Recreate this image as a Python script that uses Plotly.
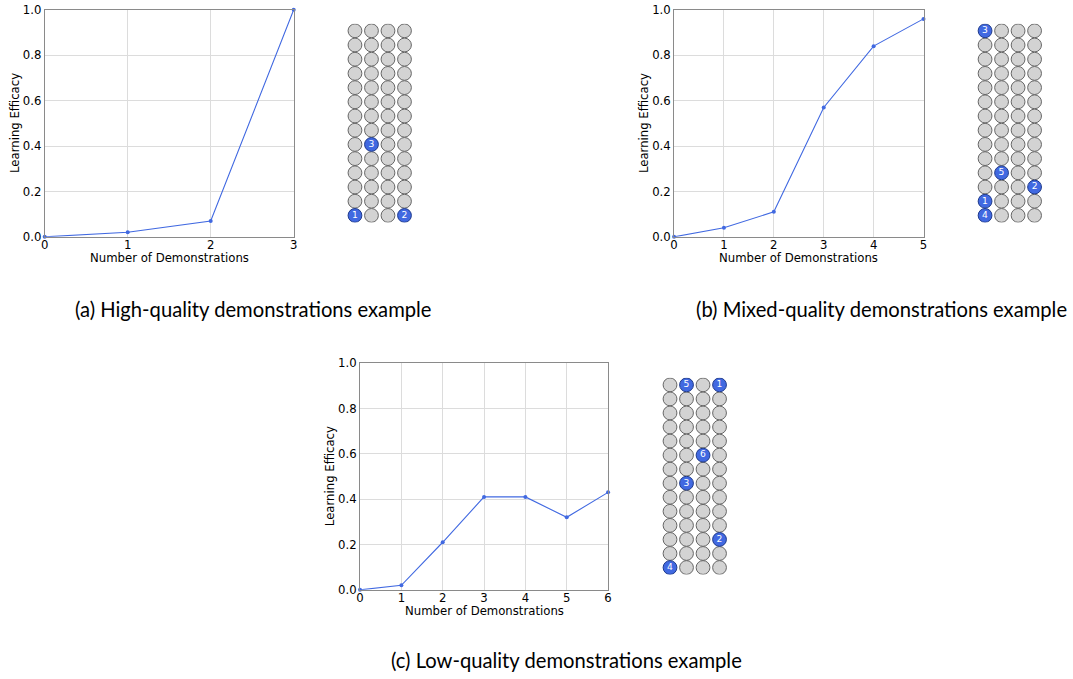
import plotly.graph_objects as go

W, H = 1073, 679

# ---- data ----
x_a = [0, 1, 2, 3]
y_a = [0.0, 0.02, 0.07, 1.0]
x_b = [0, 1, 2, 3, 4, 5]
y_b = [0.0, 0.04, 0.11, 0.57, 0.84, 0.96]
x_c = [0, 1, 2, 3, 4, 5, 6]
y_c = [0.0, 0.02, 0.21, 0.41, 0.41, 0.32, 0.43]

grid_cols = 4
grid_rows = 14
# highlighted cells: (label, column, row-from-top)
sel_a = [(1, 0, 13), (2, 3, 13), (3, 1, 8)]
sel_b = [(1, 0, 12), (2, 3, 11), (3, 0, 0), (4, 0, 13), (5, 1, 10)]
sel_c = [(1, 3, 0), (2, 3, 11), (3, 1, 7), (4, 0, 13), (5, 1, 0), (6, 2, 5)]

y_ticks = [0.0, 0.2, 0.4, 0.6, 0.8, 1.0]
x_title = "Number of Demonstrations"
y_title = "Learning Efficacy"
captions = ["(a) High-quality demonstrations example",
            "(b) Mixed-quality demonstrations example",
            "(c) Low-quality demonstrations example"]

# ---- layout helpers (target pixel boxes, corrected for render scaling) ----
SX, OX = 0.9924, 3.33
SY, OY = 0.9793, 6.19

def PX(t):
    return (t - OX) / SX

def PY(t):
    return (t - OY) / SY

def xd(l, r):
    return [PX(l) / W, PX(r) / W]

def yd(t, b):
    return [1 - PY(b) / H, 1 - PY(t) / H]

plots = [
    dict(x=x_a, y=y_a, xbox=(44, 293), ybox=(9, 236), gx=(346, 412), gy=(22.9, 221.7), sel=sel_a,
         xt=(168.5, 257), yt=(15, 122.5)),
    dict(x=x_b, y=y_b, xbox=(673.3, 922.7), ybox=(9, 236), gx=(976, 1042), gy=(22.9, 221.7), sel=sel_b,
         xt=(798, 257), yt=(644, 122.5)),
    dict(x=x_c, y=y_c, xbox=(359.3, 607.3), ybox=(362.3, 589), gx=(661, 727), gy=(377, 573.7), sel=sel_c,
         xt=(483.3, 610), yt=(330, 475.6)),
]

fig = go.Figure()
layout = dict(width=W, height=H, margin=dict(l=0, r=0, t=0, b=0),
              paper_bgcolor="white", plot_bgcolor="white", showlegend=False,
              font=dict(family="DejaVu Sans", size=11.5, color="black"))

LINE = "#4169E1"
FS = 11.7
ax_n = 1
annotations = []
for p in plots:
    xa = "x" if ax_n == 1 else f"x{ax_n}"
    ya = "y" if ax_n == 1 else f"y{ax_n}"
    fig.add_trace(go.Scatter(x=p["x"], y=p["y"], mode="lines+markers",
                             line=dict(color=LINE, width=1.1),
                             marker=dict(size=4, color=LINE),
                             xaxis=xa, yaxis=ya, cliponaxis=False))
    kx = "xaxis" if ax_n == 1 else f"xaxis{ax_n}"
    ky = "yaxis" if ax_n == 1 else f"yaxis{ax_n}"
    layout[kx] = dict(domain=xd(*p["xbox"]), anchor=ya, range=[0, max(p["x"])],
                      tickvals=p["x"], ticktext=[str(v) for v in p["x"]],
                      showgrid=True, gridcolor="#dcdcdc", gridwidth=1,
                      showline=True, linecolor="#8a8a8a", linewidth=1, mirror=True,
                      ticks="", zeroline=False, tickfont=dict(size=FS),
                      ticklabelstandoff=-3)
    layout[ky] = dict(domain=yd(*p["ybox"]), anchor=xa, range=[0, 1],
                      tickvals=y_ticks, ticktext=[f"{v:.1f}" for v in y_ticks],
                      showgrid=True, gridcolor="#dcdcdc", gridwidth=1,
                      showline=True, linecolor="#8a8a8a", linewidth=1, mirror=True,
                      ticks="", zeroline=False, tickfont=dict(size=FS))
    annotations.append(dict(text=x_title, x=PX(p["xt"][0]) / W, y=1 - PY(p["xt"][1]) / H,
                            xref="paper", yref="paper", showarrow=False,
                            xanchor="center", yanchor="middle", font=dict(size=FS)))
    annotations.append(dict(text=y_title, x=PX(p["yt"][0]) / W, y=1 - PY(p["yt"][1]) / H,
                            xref="paper", yref="paper", showarrow=False, textangle=-90,
                            xanchor="center", yanchor="middle", font=dict(size=FS)))
    ax_n += 1

    xa = f"x{ax_n}"
    ya = f"y{ax_n}"
    sel_pos = {(c, r): lab for lab, c, r in p["sel"]}
    gxs, gys = [], []
    for r in range(grid_rows):
        for c in range(grid_cols):
            if (c, r) not in sel_pos:
                gxs.append(c)
                gys.append(r)
    fig.add_trace(go.Scatter(x=gxs, y=gys, mode="markers",
                             marker=dict(size=13.8, color="#d3d3d3",
                                         line=dict(color="#666666", width=1)),
                             xaxis=xa, yaxis=ya, hoverinfo="skip"))
    fig.add_trace(go.Scatter(x=[s[1] for s in p["sel"]], y=[s[2] for s in p["sel"]],
                             mode="markers+text", text=[str(s[0]) for s in p["sel"]],
                             textposition="middle center",
                             textfont=dict(color="white", size=9.2, family="DejaVu Sans"),
                             marker=dict(size=13.8, color="#4169E1",
                                         line=dict(color="#1f3a8a", width=1)),
                             xaxis=xa, yaxis=ya, hoverinfo="skip"))
    layout[f"xaxis{ax_n}"] = dict(domain=xd(*p["gx"]), anchor=ya, range=[-0.5, grid_cols - 0.5],
                                  visible=False, fixedrange=True)
    layout[f"yaxis{ax_n}"] = dict(domain=yd(*p["gy"]), anchor=xa, range=[grid_rows - 0.5, -0.5],
                                  visible=False, fixedrange=True)
    ax_n += 1

cap_pos = [(253, 308), (881, 308), (566, 659.5)]
for txt, (cx, cy) in zip(captions, cap_pos):
    annotations.append(dict(text=txt, x=PX(cx) / W, y=1 - PY(cy) / H, xref="paper", yref="paper",
                            showarrow=False, xanchor="center", yanchor="middle",
                            font=dict(family="Lato", size=20.2, color="black")))
layout["annotations"] = annotations
fig.update_layout(**layout)
fig.write_html("out.html")
